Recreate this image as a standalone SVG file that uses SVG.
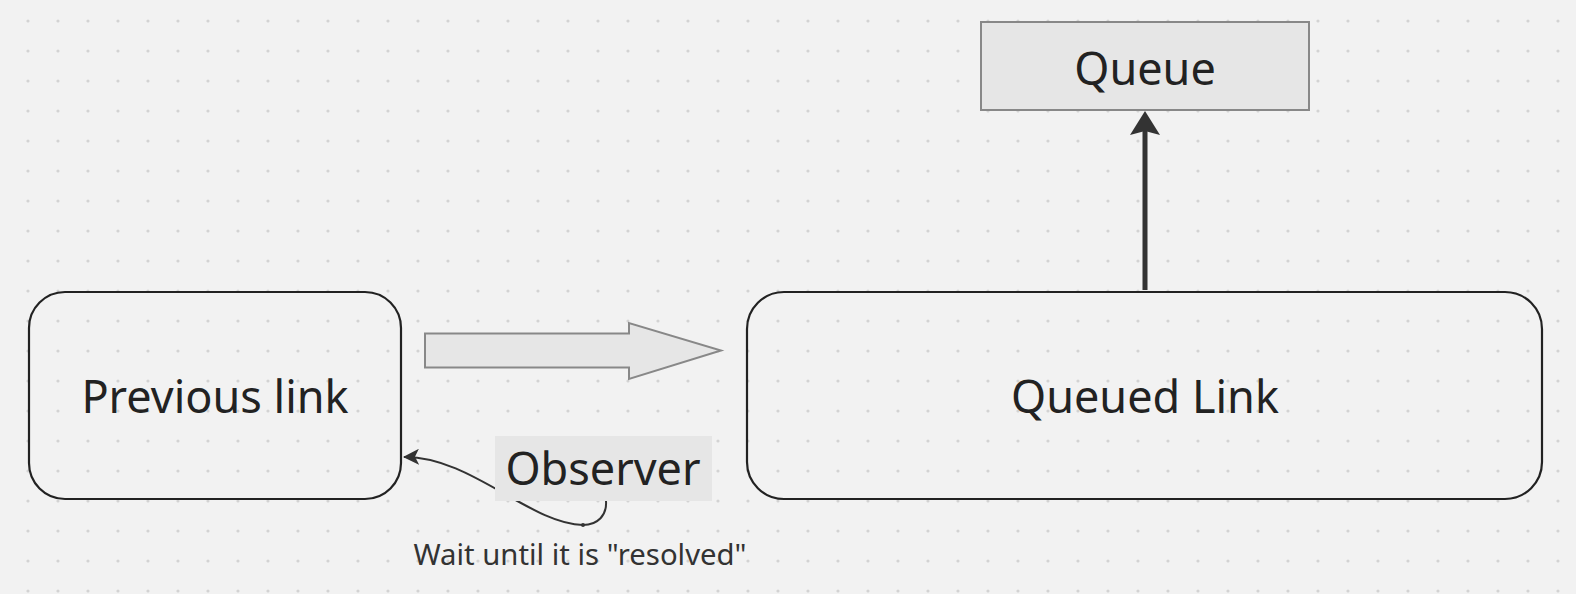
<svg xmlns="http://www.w3.org/2000/svg" width="1576" height="594" viewBox="0 0 1576 594">
  <defs>
    <pattern id="dots" patternUnits="userSpaceOnUse" x="13" y="6" width="30" height="30">
      <circle cx="15" cy="15" r="1.6" fill="#d3d3d3"/>
    </pattern>
    <marker id="bigHead" markerUnits="userSpaceOnUse" viewBox="0 -15 24 30" refX="4" refY="0" markerWidth="24" markerHeight="30" orient="auto">
      <path d="M0,-15 L24,0 L0,15 L4,0 Z" fill="#333"/>
    </marker>
    <marker id="smallHead" markerUnits="userSpaceOnUse" viewBox="0 -8 16 16" refX="15" refY="0" markerWidth="16" markerHeight="16" orient="auto">
      <path d="M0,-8 L16,0 L0,8 L4,0 Z" fill="#333"/>
    </marker>
    <style>
      .node { fill: none; stroke: #222; stroke-width: 2.2; }
      .box { fill: #e6e6e6; stroke: #888; stroke-width: 2; }
      .label { font-family: "Noto Sans", "Open Sans", "DejaVu Sans", sans-serif; fill: #222; text-anchor: middle; }
      .big { font-size: 45px; }
      .small { font-size: 29.3px; fill: #333; }
      .conn { fill: none; stroke: #333; }
    </style>
  </defs>
  <rect x="0" y="0" width="1576" height="594" fill="#f2f2f2"/>
  <rect x="0" y="0" width="1576" height="594" fill="url(#dots)"/>

  <g id="connectors">
    <line class="conn" x1="1145" y1="290" x2="1145" y2="131" stroke-width="5" marker-end="url(#bigHead)"/>
    <path class="conn" d="M606,501 C607,515 598,525 583,525 C530,524 470,456 404,457" stroke-width="2" marker-end="url(#smallHead)"/>
    <circle cx="583" cy="525" r="2" fill="#333"/>
  </g>

  <g id="previous-link">
    <rect class="node" x="29" y="292" width="372" height="207" rx="36" ry="36"/>
    <text class="label big" x="215" y="413">Previous link</text>
  </g>

  <g id="transfer-arrow">
    <path class="box" d="M425,333.5 L629,333.5 L629,323 L721,350.5 L629,379 L629,367.5 L425,367.5 Z"/>
  </g>

  <g id="queued-link">
    <rect class="node" x="747" y="292" width="795" height="207" rx="37" ry="37"/>
    <text class="label big" x="1145" y="413">Queued Link</text>
  </g>

  <g id="queue">
    <rect class="box" x="981" y="22" width="328" height="88"/>
    <text class="label big" x="1145" y="85">Queue</text>
  </g>

  <g id="observer">
    <rect x="495" y="436" width="217" height="65" fill="#e6e6e6"/>
    <text class="label big" x="603" y="485">Observer</text>
  </g>

  <g id="wait-label">
    <text class="label small" x="580" y="565">Wait until it is "resolved"</text>
  </g>
</svg>
